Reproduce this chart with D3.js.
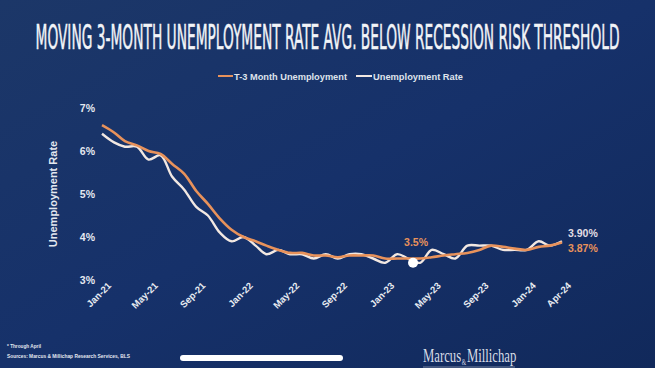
<!DOCTYPE html>
<html><head><meta charset="utf-8">
<script src="https://cdn.jsdelivr.net/npm/d3@7"></script>
<style>
html,body{margin:0;padding:0;background:#142b5c;}
svg{display:block;}
</style></head>
<body>
<svg id="chart" width="655" height="368"></svg>
<script>
const months = ["2021-01","2021-02","2021-03","2021-04","2021-05","2021-06","2021-07","2021-08","2021-09","2021-10","2021-11","2021-12",
"2022-01","2022-02","2022-03","2022-04","2022-05","2022-06","2022-07","2022-08","2022-09","2022-10","2022-11","2022-12",
"2023-01","2023-02","2023-03","2023-04","2023-05","2023-06","2023-07","2023-08","2023-09","2023-10","2023-11","2023-12",
"2024-01","2024-02","2024-03","2024-04"];
const unemploymentRate = [6.4,6.2,6.1,6.1,5.8,5.9,5.4,5.1,4.7,4.5,4.1,3.9,
4.0,3.8,3.6,3.7,3.6,3.6,3.5,3.6,3.5,3.6,3.6,3.5,
3.4,3.6,3.5,3.4,3.7,3.6,3.5,3.8,3.8,3.8,3.7,3.7,
3.7,3.9,3.8,3.9];
const t3Unemployment = [6.6,6.43,6.23,6.13,6.0,5.93,5.7,5.47,5.07,4.77,4.43,4.17,
4.0,3.9,3.8,3.7,3.63,3.63,3.57,3.57,3.53,3.57,3.57,3.57,
3.5,3.5,3.5,3.5,3.53,3.57,3.6,3.63,3.7,3.8,3.77,3.73,
3.7,3.77,3.8,3.87];
const tickMonths = ["2021-01","2021-05","2021-09","2022-01","2022-05","2022-09","2023-01","2023-05","2023-09","2024-01","2024-04"];
const tickLabels = ["Jan-21","May-21","Sep-21","Jan-22","May-22","Sep-22","Jan-23","May-23","Sep-23","Jan-24","Apr-24"];
const yTicks = [3,4,5,6,7];
const seriesNames = ["T-3 Month Unemployment","Unemployment Rate"];
const title = "MOVING 3-MONTH UNEMPLOYMENT RATE AVG. BELOW RECESSION RISK THRESHOLD";
const markerMonth = "2023-04";
const markerLabel = "3.5%";
const endLabels = ["3.90%","3.87%"];
const footnotes = ["* Through April","Sources: Marcus & Millichap Research Services, BLS"];
const logoParts = ["Marcus","&","Millichap"];

const parse = d3.timeParse("%Y-%m");
const svg = d3.select("#chart");
const W = 655, H = 368;
const orange = "#e8925b", white = "#f2e8e2";
const sans = "Arial,'Liberation Sans',sans-serif";

const defs = svg.append("defs");
const bg = defs.append("linearGradient").attr("id","bg").attr("x1","0").attr("y1","0").attr("x2","1").attr("y2","1");
bg.append("stop").attr("offset","0").attr("stop-color","#1c3768");
bg.append("stop").attr("offset","0.5").attr("stop-color","#16316a");
bg.append("stop").attr("offset","1").attr("stop-color","#11295b");
svg.append("rect").attr("width",W).attr("height",H).attr("fill","url(#bg)");

// title: scale horizontally to the reference width
const tt = svg.append("text").attr("text-anchor","middle")
  .attr("font-family","'Liberation Sans Narrow','DejaVu Sans Condensed',sans-serif")
  .attr("font-size",33).attr("fill","#f2f4f8")
  .attr("stroke","#f2f4f8").attr("stroke-width",0.5)
  .text(title);
const tLen = tt.node().getComputedTextLength();
tt.attr("transform",`translate(${W/2},49) scale(${584/tLen},1)`);

const x = d3.scaleTime().domain([parse(months[0]), parse(months[months.length-1])]).range([102,562]);
const y = d3.scaleLinear().domain([3,7]).range([280,108]);

// y axis
const yAxis = d3.axisLeft(y).tickValues(yTicks).tickFormat(d=>d+"%").tickSize(0).tickPadding(0);
const gy = svg.append("g").attr("transform","translate(95,0)").call(yAxis);
gy.select(".domain").remove();
gy.selectAll("text").attr("font-family",sans).attr("font-weight","bold")
  .attr("font-size",10.5).attr("fill","#e4e8f0");

svg.append("text").attr("transform","translate(57,194) rotate(-90)").attr("text-anchor","middle")
  .attr("font-family",sans).attr("font-size",11).attr("font-weight","bold").attr("fill","#e4e8f0")
  .text("Unemployment Rate");

// x axis
const xAxis = d3.axisBottom(x).tickValues(tickMonths.map(parse)).tickFormat((d,i)=>tickLabels[i]).tickSize(0).tickPadding(0);
const gx = svg.append("g").attr("transform","translate(0,284)").call(xAxis);
gx.select(".domain").remove();
gx.selectAll("text").attr("font-family",sans).attr("font-weight","bold")
  .attr("font-size",9.5).attr("fill","#e8ecf2")
  .attr("text-anchor","end").attr("dy","0.35em")
  .attr("transform","translate(7,0) rotate(-45)");

// lines
const line = d3.line().x((d,i)=>x(parse(months[i]))).y(d=>y(d)).curve(d3.curveCatmullRom.alpha(0.5));
svg.append("path").datum(unemploymentRate).attr("d",line).attr("fill","none")
  .attr("stroke",white).attr("stroke-width",2.4).attr("stroke-linejoin","round");
svg.append("path").datum(t3Unemployment).attr("d",line).attr("fill","none")
  .attr("stroke",orange).attr("stroke-width",2.6).attr("stroke-linejoin","round");

// marker
const mi = months.indexOf(markerMonth);
const mx = x(parse(markerMonth)) - 7;
svg.append("circle").attr("cx",mx).attr("cy",y(unemploymentRate[mi])).attr("r",5).attr("fill","#ffffff");
svg.append("text").attr("x",mx+3).attr("y",y(t3Unemployment[mi])-13).attr("text-anchor","middle")
  .attr("font-family",sans).attr("font-size",10.5).attr("font-weight","bold").attr("fill",orange)
  .text(markerLabel);

// end labels
const last = months.length-1;
svg.append("text").attr("x",568).attr("y",y(unemploymentRate[last])-4).attr("font-family",sans)
  .attr("font-size",10.5).attr("font-weight","bold").attr("fill","#e2dee4").text(endLabels[0]);
svg.append("text").attr("x",568).attr("y",y(t3Unemployment[last])+9.5).attr("font-family",sans)
  .attr("font-size",10.5).attr("font-weight","bold").attr("fill",orange).text(endLabels[1]);

// legend
const lg = svg.append("g").attr("font-family",sans).attr("font-size",9.5).attr("font-weight","bold").attr("fill","#dfe3ec");
lg.append("line").attr("x1",218).attr("x2",233).attr("y1",76).attr("y2",76).attr("stroke",orange).attr("stroke-width",2);
lg.append("text").attr("x",234).attr("y",79.5).attr("textLength",113).attr("lengthAdjust","spacingAndGlyphs").text(seriesNames[0]);
lg.append("line").attr("x1",356).attr("x2",372).attr("y1",76).attr("y2",76).attr("stroke",white).attr("stroke-width",2);
lg.append("text").attr("x",373).attr("y",79.5).attr("textLength",90).attr("lengthAdjust","spacingAndGlyphs").text(seriesNames[1]);

// footnotes
svg.append("text").attr("x",7).attr("y",348).attr("font-family",sans)
  .attr("font-size",5.8).attr("font-weight","bold").attr("fill","#e4e8f0")
  .attr("textLength",34).attr("lengthAdjust","spacingAndGlyphs").text(footnotes[0]);
svg.append("text").attr("x",7).attr("y",358).attr("font-family",sans)
  .attr("font-size",5.8).attr("font-weight","bold").attr("fill","#e4e8f0")
  .attr("textLength",123).attr("lengthAdjust","spacingAndGlyphs").text(footnotes[1]);

// home indicator bar
svg.append("rect").attr("x",180).attr("y",355).attr("width",163).attr("height",6).attr("rx",3).attr("fill","#ffffff");

// logo: one text element scaled horizontally
const serif = "'Liberation Serif','DejaVu Serif',serif";
const logo = svg.append("text").attr("font-family",serif).attr("fill","#d8dce6").attr("font-size",18);
logo.append("tspan").text(logoParts[0]);
logo.append("tspan").attr("font-size",8).attr("dy",3).attr("dx",1).text(logoParts[1]);
logo.append("tspan").attr("dy",-3).attr("dx",1).text(logoParts[2]);
const lLen = logo.node().getComputedTextLength();
logo.attr("transform",`translate(423,362) scale(${92/lLen},1)`);
svg.append("line").attr("x1",423).attr("x2",515).attr("y1",367).attr("y2",367).attr("stroke","#b8bfcf").attr("stroke-width",0.6);
</script>
</body></html>
